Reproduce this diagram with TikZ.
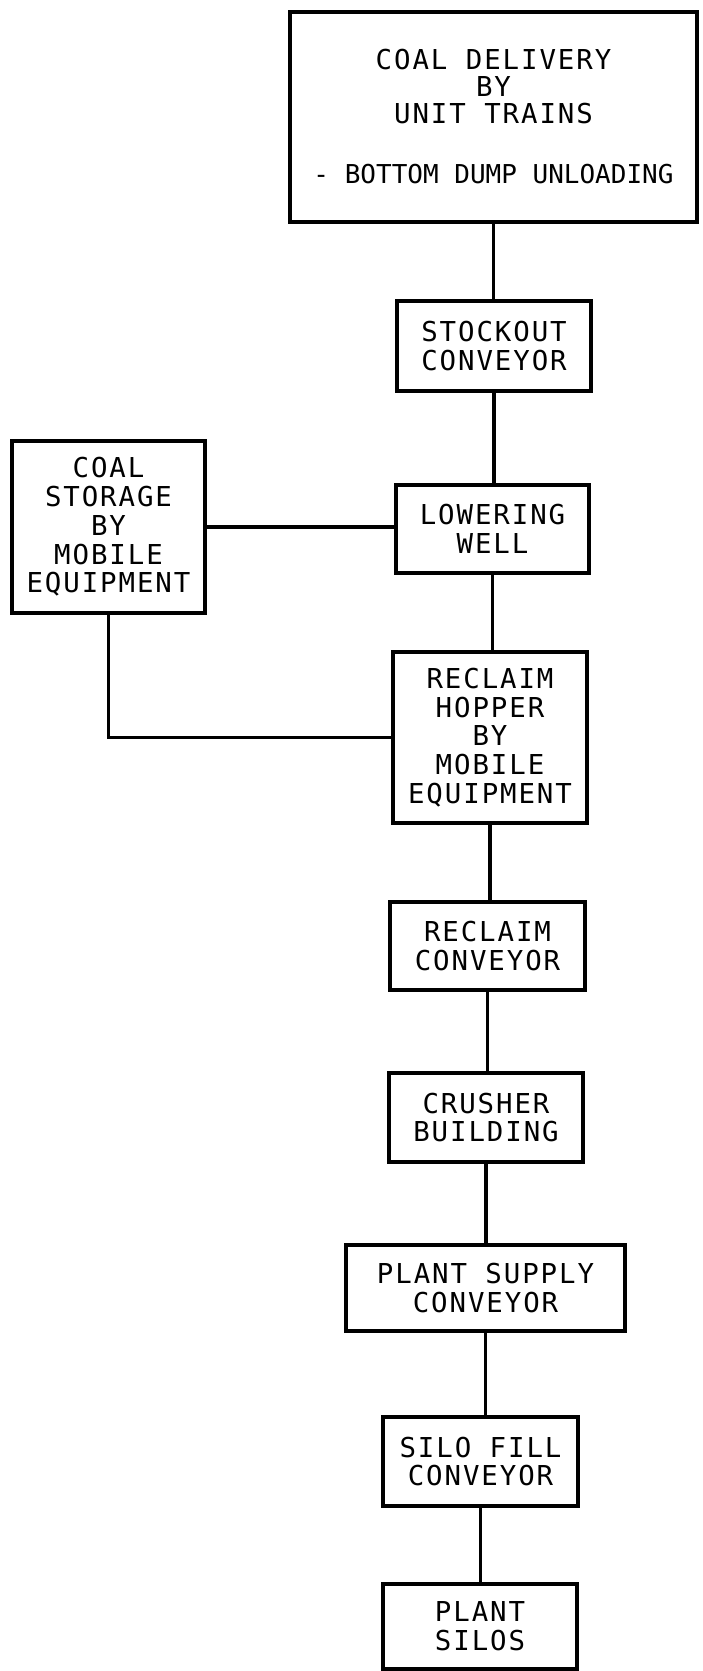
\documentclass[tikz,border=0pt]{standalone}
\usepackage{fontspec}
\newfontfamily\plotfont[LetterSpace=7.0]{DejaVu Sans Mono}
\newfontfamily\plotfontnarrow[LetterSpace=0.0]{DejaVu Sans Mono}
\begin{document}
\begin{tikzpicture}[x=1pt,y=-1pt,
  box/.style={draw=black, line width=3.5pt, inner sep=0pt, align=center,
    font=\plotfont\fontsize{27.4}{28.7}\selectfont, text=black},
  link/.style={draw=black, line width=3.5pt}]
\useasboundingbox (0,0) rectangle (702,1671);
\fill[white] (0,0) rectangle (702,1671);

\node[box, minimum width=407pt, minimum height=210pt,
  font=\plotfont\fontsize{27.4}{27}\selectfont] (top) at (493.5,117)
  {COAL DELIVERY\\BY\\UNIT TRAINS\\[33pt]{\plotfontnarrow\fontsize{26}{27}\selectfont - BOTTOM DUMP UNLOADING}};
\node[box, minimum width=194pt, minimum height=90pt] (stock) at (494,346) {STOCKOUT\\CONVEYOR};
\node[box, minimum width=193pt, minimum height=88pt] (lower) at (492.5,529) {LOWERING\\WELL};
\node[box, minimum width=193pt, minimum height=172pt] (storage) at (108.5,527) {COAL\\STORAGE\\BY\\MOBILE\\EQUIPMENT};
\node[box, minimum width=194pt, minimum height=171pt] (hopper) at (490,737.5) {RECLAIM\\HOPPER\\BY\\MOBILE\\EQUIPMENT};
\node[box, minimum width=195pt, minimum height=88pt] (recconv) at (487.5,946) {RECLAIM\\CONVEYOR};
\node[box, minimum width=194pt, minimum height=89pt] (crusher) at (486,1117.5) {CRUSHER\\BUILDING};
\node[box, minimum width=279pt, minimum height=86pt] (supply) at (485.5,1288) {PLANT SUPPLY\\CONVEYOR};
\node[box, minimum width=195pt, minimum height=89pt] (silofill) at (480.5,1461.5) {SILO FILL\\CONVEYOR};
\node[box, minimum width=194pt, minimum height=85pt] (silos) at (480,1626.5) {PLANT\\SILOS};

\draw[link] (top.south) -- (top.south |- stock.north);
\draw[link] (stock.south) -- (stock.south |- lower.north);
\draw[link] (lower.south) -- (lower.south |- hopper.north);
\draw[link] (hopper.south) -- (hopper.south |- recconv.north);
\draw[link] (recconv.south) -- (recconv.south |- crusher.north);
\draw[link] (crusher.south) -- (crusher.south |- supply.north);
\draw[link] (supply.south) -- (supply.south |- silofill.north);
\draw[link] (silofill.south) -- (silofill.south |- silos.north);
\draw[link] (storage.east) -- (storage.east -| lower.west);
\draw[link] (storage.south) |- (hopper.west);
\end{tikzpicture}
\end{document}
